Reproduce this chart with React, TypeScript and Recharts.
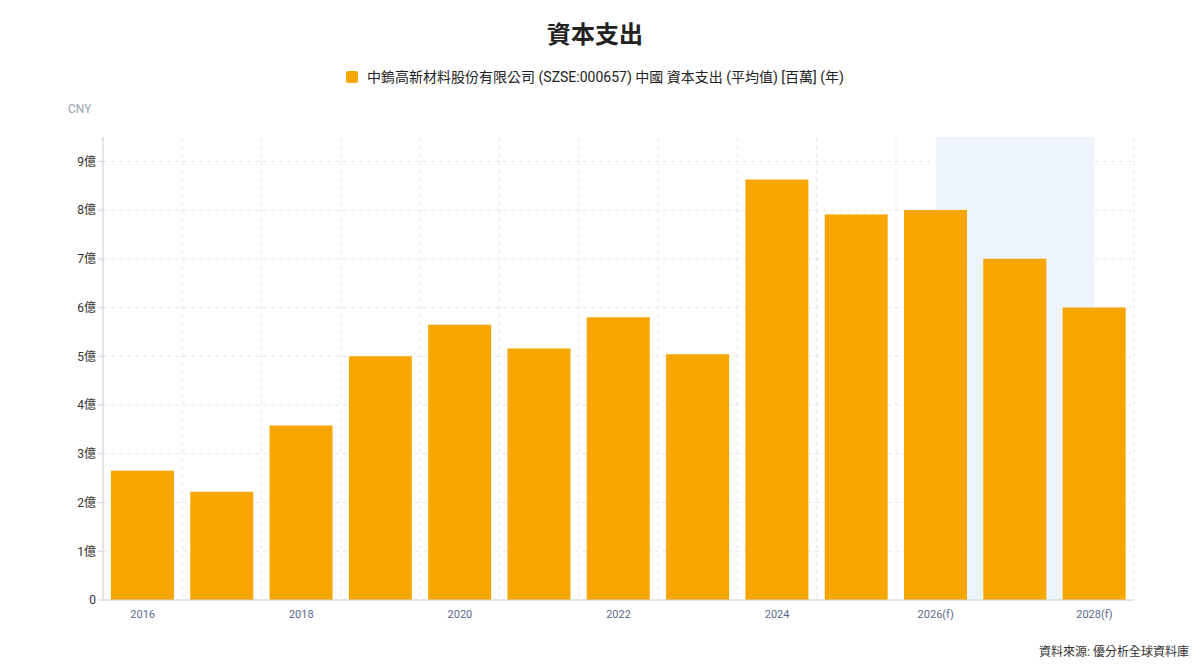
import React from "react";
import { BarChart, Bar, XAxis, YAxis, CartesianGrid, ReferenceArea } from "recharts";

const years = ["2016", "2017", "2018", "2019", "2020", "2021", "2022", "2023", "2024", "2025", "2026(f)", "2027(f)", "2028(f)"];
const capex = [265, 222, 358, 500, 565, 516, 580, 504, 863, 791, 800, 700, 600];
const yTicks = [0, 100, 200, 300, 400, 500, 600, 700, 800, 900];
const Y_MAX = 950;
const gridTicks = [0, 1, 2, 3, 4, 5, 6, 7, 8, 9, 10, 11, 12, 13];

const data = years.map((y, i) => ({ year: y, value: capex[i] }));

const FONT = "Roboto, 'Noto Sans CJK TC', 'Noto Sans', sans-serif";

export default function App() {
  return (
    <div style={{ position: "absolute", left: 0, top: 0, width: 1200, height: 671, background: "#fff", fontFamily: FONT }}>
      <div style={{ position: "absolute", top: 18, left: 0, width: 1190, textAlign: "center", fontSize: 24, fontWeight: 700, color: "#222", lineHeight: "34px" }}>
        資本支出
      </div>
      <div style={{ position: "absolute", top: 66, left: 0, width: 1190, display: "flex", justifyContent: "center", alignItems: "center", fontSize: 14, color: "#222", lineHeight: "22px" }}>
        <span style={{ display: "inline-block", width: 12, height: 12, background: "#F7A600", borderRadius: 2, marginRight: 9 }} />
        <span>中鎢高新材料股份有限公司 (SZSE:000657) 中國 資本支出 (平均值) [百萬] (年)</span>
      </div>
      <div style={{ position: "absolute", top: 102, left: 68, fontSize: 12, color: "#9aa3b2" }}>CNY</div>
      <div style={{ position: "absolute", top: 642, right: 11, fontSize: 12, color: "#333" }}>資料來源: 優分析全球資料庫</div>
      <div style={{ position: "absolute", left: 0, top: 0 }}>
        <BarChart width={1200} height={671} data={data} margin={{ top: 137, right: 66, bottom: 41, left: 0 }} barCategoryGap="10%">
          <ReferenceArea xAxisId={0} x1={10.5} x2={12.5} y1={0} y2={Y_MAX} fill="#EAF2FC" fillOpacity={0.85} stroke="none" />
          <CartesianGrid
            xAxisId={0}
            strokeDasharray="4 4"
            stroke="#e3e6eb"
            verticalCoordinatesGenerator={({ offset }: any) =>
              gridTicks.map((t) => offset.left + (t * offset.width) / years.length)
            }
            horizontalCoordinatesGenerator={({ offset }: any) =>
              yTicks.map((t) => offset.top + offset.height * (1 - t / Y_MAX))
            }
          />
          <XAxis
            xAxisId={0}
            type="number"
            dataKey={() => 0}
            domain={[0, 13]}
            ticks={gridTicks}
            height={1}
            tick={false}
            tickLine={{ stroke: "#ccd3dd" }}
            tickSize={6}
            axisLine={{ stroke: "#ccd3dd" }}
            allowDataOverflow
          />
          <XAxis
            xAxisId="cat"
            dataKey="year"
            interval={1}
            tickLine={false}
            axisLine={false}
            height={29}
            tick={{ fill: "#5b6b8c", fontSize: 11, fontFamily: FONT }}
            tickMargin={3}
          />
          <YAxis
            width={103}
            domain={[0, Y_MAX]}
            ticks={yTicks}
            tickFormatter={(v: number) => (v === 0 ? "0" : `${v / 100}億`)}
            tick={{ fill: "#333", fontSize: 12, fontFamily: FONT }}
            tickLine={{ stroke: "#ccd3dd" }}
            tickSize={5}
            axisLine={{ stroke: "#ccd3dd" }}
          />
          <Bar xAxisId="cat" dataKey="value" fill="#F7A600" isAnimationActive={false} />
        </BarChart>
      </div>
    </div>
  );
}
